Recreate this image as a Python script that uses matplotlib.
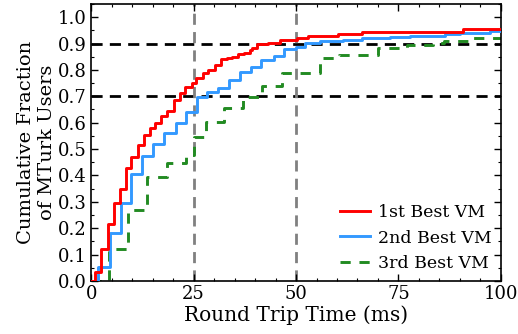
import numpy as np
import matplotlib; matplotlib.use("Agg")
import matplotlib.pyplot as plt
from matplotlib.ticker import MultipleLocator

# step CDFs (x = rise position in ms, y = level after rise)
x_first = [0, 1.0, 2.5, 4.1, 5.6, 7.1, 8.5, 9.8, 11.5, 12.8, 14.3, 15.5, 17.1, 18.6,
           20.2, 21.6, 23.0, 24.5, 25.7, 27.3, 28.6, 30.2, 31.6, 33.1, 34.3, 35.9,
           37.3, 38.8, 39.2, 40.4, 43.2, 46.1, 50.2, 53.0, 60.3, 66.0, 90.7, 100]
y_first = [0, 0.035, 0.12, 0.215, 0.295, 0.35, 0.43, 0.47, 0.515, 0.553, 0.58, 0.60,
           0.625, 0.645, 0.686, 0.713, 0.736, 0.751, 0.771, 0.787, 0.80, 0.818, 0.84,
           0.846, 0.85, 0.86, 0.866, 0.875, 0.885, 0.898, 0.903, 0.915, 0.92, 0.928,
           0.936, 0.945, 0.955, 0.955]

x_second = [0, 1.7, 4.5, 7.2, 9.8, 12.4, 15.1, 17.8, 20.6, 23.2, 25.9, 28.3, 31.0,
            33.7, 36.3, 39.0, 41.5, 44.5, 47.1, 50.0, 52.2, 55.9, 61.5, 66.0, 73.0,
            77.8, 86.3, 90.0, 97.3, 100]
y_second = [0, 0.052, 0.183, 0.297, 0.405, 0.473, 0.52, 0.559, 0.597, 0.641, 0.698,
            0.717, 0.73, 0.761, 0.793, 0.81, 0.837, 0.852, 0.878, 0.888, 0.903, 0.909,
            0.915, 0.922, 0.925, 0.929, 0.936, 0.941, 0.946, 0.946]

x_third = [0, 4.4, 9.0, 13.7, 18.5, 23.2, 25.1, 28.0, 32.3, 37.1, 41.6, 46.5, 55.9,
           60.6, 70.1, 77.0, 83.5, 86.0, 93.3, 100]
y_third = [0, 0.121, 0.269, 0.393, 0.448, 0.477, 0.544, 0.603, 0.656, 0.698, 0.74,
           0.79, 0.845, 0.858, 0.882, 0.894, 0.902, 0.91, 0.922, 0.922]

labels = ["1st Best VM", "2nd Best VM", "3rd Best VM"]
h_refs = [0.7, 0.9]
v_refs = [25, 50]

plt.rcParams["font.family"] = ["DejaVu Serif"]
plt.rcParams["mathtext.fontset"] = "dejavuserif"

fig = plt.figure(figsize=(5.18, 3.34), dpi=100)
ax = fig.add_axes([0.176, 0.159, 0.791, 0.829])

for y in h_refs:
    ax.axhline(y, color="black", ls=(0, (4, 2.6)), lw=2.0, zorder=1)
for x in v_refs:
    ax.axvline(x, color="gray", ls=(0, (4, 2.6)), lw=2.0, zorder=1)

ax.plot(x_first, y_first, drawstyle="steps-post", color="#ff0000", lw=2.1,
        label=labels[0], zorder=4)
ax.plot(x_second, y_second, drawstyle="steps-post", color="#3399ff", lw=2.1,
        label=labels[1], zorder=3)
ax.plot(x_third, y_third, drawstyle="steps-post", color="#228b22", lw=2.1,
        ls=(0, (3.5, 3)), label=labels[2], zorder=2)

ax.set_xlim(0, 100)
ax.set_ylim(0, 1.05)
ax.set_xticks([0, 25, 50, 75, 100])
ax.set_yticks(np.arange(0, 1.01, 0.1))
ax.xaxis.set_minor_locator(MultipleLocator(5))
ax.yaxis.set_minor_locator(MultipleLocator(0.05))
ax.tick_params(which="both", direction="in", top=True, right=True, labelsize=13)
ax.tick_params(axis="x", pad=3)
ax.tick_params(which="major", length=5, width=1)
ax.tick_params(which="minor", length=2.5, width=0.8)
for s in ax.spines.values():
    s.set_linewidth(1.2)

ax.set_xlabel("Round Trip Time (ms)", fontsize=14.5, labelpad=2)
ax.set_ylabel("Cumulative Fraction\nof MTurk Users", fontsize=14, labelpad=1,
              linespacing=1.25)

ax.legend(loc="lower right", frameon=False, fontsize=12.5, handlelength=1.7,
          handletextpad=0.5, labelspacing=0.5, borderaxespad=0.1)

fig.savefig("out.png", dpi=100)
